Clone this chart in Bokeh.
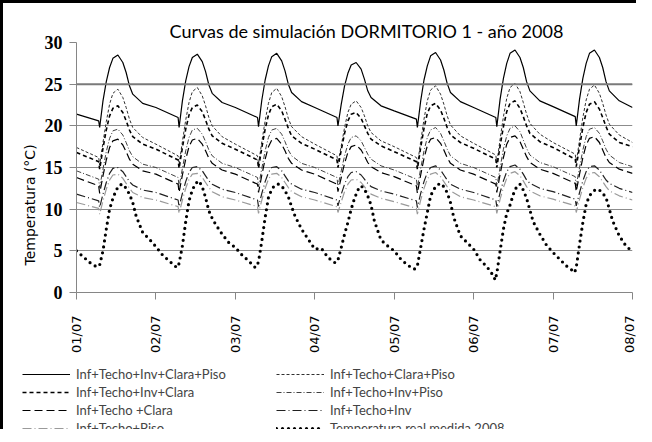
import math
from bokeh.plotting import figure
from bokeh.layouts import column
from bokeh.models import Legend, LegendItem, FixedTicker, Span, Range1d, Title
from bokeh.embed import file_html
from bokeh.resources import INLINE

title_text = "Curvas de simulación DORMITORIO 1 - año 2008"
y_label = "Temperatura (°C)"
x_tick_hours = [0, 24, 48, 72, 96, 120, 144, 168]
x_tick_labels = ["01/07", "02/07", "03/07", "04/07", "05/07", "06/07", "07/07", "08/07"]
y_ticks = [0, 5, 10, 15, 20, 25, 30]

# hours of day at which the simulated curves are read
sim_hours = [0, 6.7, 7.0, 8, 9, 10, 11, 12.5, 14, 15, 16, 17, 20]

s1_name = "Inf+Techo+Inv+Clara+Piso"
s1_days = [
    [21.4, 20.6, 19.8, 23.0, 25.3, 27.0, 28.1, 28.5, 27.6, 26.4, 24.8, 23.8, 22.7],
    [22.2, 21.0, 19.8, 23.0, 25.4, 27.1, 28.2, 28.6, 27.7, 26.5, 24.9, 23.9, 22.8],
    [22.2, 21.0, 19.9, 23.1, 25.5, 27.2, 28.3, 28.7, 27.8, 26.6, 25.0, 24.0, 22.9],
    [22.2, 21.0, 20.0, 22.6, 24.8, 26.3, 27.3, 27.6, 26.8, 25.6, 24.2, 23.4, 22.4],
    [21.8, 20.8, 19.8, 23.0, 25.5, 27.2, 28.4, 28.8, 27.9, 26.7, 25.1, 24.0, 22.9],
    [22.2, 21.0, 19.9, 23.2, 25.7, 27.5, 28.7, 29.1, 28.2, 27.0, 25.3, 24.2, 23.0],
    [22.3, 21.1, 20.0, 23.2, 25.7, 27.5, 28.7, 29.1, 28.2, 27.0, 25.3, 24.2, 23.0],
]
s1_end = 22.2

s2_name = "Inf+Techo+Clara+Piso"
s2_days = [
    [17.4, 16.2, 15.3, 18.0, 20.5, 22.6, 23.9, 24.4, 23.4, 22.2, 20.8, 19.8, 18.6],
    [17.8, 16.4, 15.4, 18.1, 20.7, 22.8, 24.1, 24.6, 23.6, 22.4, 21.0, 20.0, 18.7],
    [17.8, 16.4, 15.4, 18.1, 20.6, 22.7, 24.0, 24.5, 23.5, 22.3, 20.9, 19.9, 18.7],
    [17.8, 16.4, 15.5, 17.6, 19.8, 21.6, 22.6, 23.0, 22.2, 21.2, 20.0, 19.2, 18.2],
    [17.5, 16.2, 15.3, 18.1, 20.8, 23.0, 24.3, 24.8, 23.8, 22.6, 21.2, 20.1, 18.8],
    [17.9, 16.5, 15.5, 18.4, 21.1, 23.3, 24.6, 25.1, 24.1, 22.8, 21.4, 20.3, 19.0],
    [18.0, 16.6, 15.6, 18.3, 21.0, 23.1, 24.4, 24.9, 23.9, 22.7, 21.3, 20.2, 18.9],
]
s2_end = 18.0

s3_name = "Inf+Techo+Inv+Clara"
s3_days = [
    [16.8, 15.7, 14.8, 17.3, 19.5, 21.2, 22.1, 22.4, 21.6, 20.6, 19.5, 18.7, 17.8],
    [17.2, 15.9, 14.9, 17.4, 19.6, 21.3, 22.2, 22.5, 21.7, 20.7, 19.6, 18.8, 17.9],
    [17.2, 15.9, 14.9, 17.4, 19.6, 21.3, 22.3, 22.6, 21.8, 20.8, 19.7, 18.8, 17.9],
    [17.2, 15.9, 15.0, 17.1, 19.1, 20.6, 21.4, 21.6, 20.9, 20.0, 19.1, 18.4, 17.6],
    [16.9, 15.7, 14.8, 17.4, 19.7, 21.5, 22.4, 22.7, 21.9, 20.9, 19.8, 18.9, 18.0],
    [17.3, 16.0, 15.0, 17.6, 19.9, 21.7, 22.7, 23.0, 22.1, 21.1, 20.0, 19.1, 18.1],
    [17.4, 16.0, 15.1, 17.5, 19.8, 21.6, 22.6, 22.9, 22.0, 21.0, 19.9, 19.0, 18.0],
]
s3_end = 17.5

s4_name = "Inf+Techo+Inv+Piso"
s4_days = [
    [14.6, 13.6, 12.6, 14.8, 16.9, 18.5, 19.4, 19.6, 18.9, 18.0, 17.0, 16.3, 15.4],
    [15.0, 13.8, 12.7, 14.9, 17.0, 18.6, 19.5, 19.7, 19.0, 18.1, 17.1, 16.4, 15.5],
    [15.0, 13.8, 12.7, 14.9, 17.0, 18.6, 19.5, 19.7, 19.0, 18.1, 17.1, 16.4, 15.5],
    [15.0, 13.8, 12.8, 14.6, 16.4, 17.8, 18.6, 18.8, 18.2, 17.4, 16.6, 16.0, 15.2],
    [14.7, 13.6, 12.6, 14.9, 17.0, 18.6, 19.5, 19.8, 19.1, 18.2, 17.2, 16.4, 15.5],
    [15.0, 13.8, 12.7, 15.0, 17.2, 18.8, 19.7, 20.0, 19.3, 18.3, 17.3, 16.5, 15.6],
    [15.1, 13.9, 12.8, 15.0, 17.1, 18.7, 19.6, 19.8, 19.1, 18.2, 17.2, 16.5, 15.6],
]
s4_end = 15.1

s5_name = "Inf+Techo +Clara"
s5_days = [
    [13.8, 12.8, 11.9, 14.0, 15.9, 17.4, 18.2, 18.4, 17.7, 16.9, 16.0, 15.4, 14.6],
    [14.2, 13.0, 12.0, 14.1, 16.0, 17.5, 18.3, 18.5, 17.8, 17.0, 16.1, 15.5, 14.7],
    [14.2, 13.0, 12.0, 14.1, 16.0, 17.5, 18.3, 18.5, 17.8, 17.0, 16.1, 15.5, 14.7],
    [14.2, 13.0, 12.1, 13.8, 15.5, 16.8, 17.5, 17.7, 17.1, 16.4, 15.6, 15.1, 14.4],
    [13.9, 12.8, 11.9, 14.1, 16.1, 17.6, 18.4, 18.6, 17.9, 17.1, 16.2, 15.5, 14.7],
    [14.2, 13.0, 12.0, 14.2, 16.2, 17.8, 18.6, 18.8, 18.1, 17.2, 16.3, 15.6, 14.8],
    [14.3, 13.1, 12.1, 14.2, 16.2, 17.7, 18.5, 18.7, 18.0, 17.1, 16.2, 15.6, 14.8],
]
s5_end = 14.3

s6_name = "Inf+Techo+Inv"
s6_days = [
    [11.8, 11.0, 10.2, 11.8, 13.2, 14.3, 14.9, 15.0, 14.5, 13.9, 13.3, 12.9, 12.3],
    [12.0, 11.1, 10.3, 11.9, 13.3, 14.4, 15.0, 15.1, 14.6, 14.0, 13.4, 13.0, 12.4],
    [12.0, 11.1, 10.3, 11.9, 13.3, 14.4, 15.0, 15.1, 14.6, 14.0, 13.4, 13.0, 12.4],
    [12.0, 11.1, 10.4, 11.8, 13.0, 13.9, 14.4, 14.5, 14.1, 13.6, 13.1, 12.7, 12.2],
    [11.8, 11.0, 10.2, 11.9, 13.3, 14.4, 15.0, 15.2, 14.7, 14.1, 13.5, 13.0, 12.4],
    [12.0, 11.1, 10.3, 12.0, 13.4, 14.5, 15.1, 15.3, 14.8, 14.2, 13.5, 13.1, 12.5],
    [12.1, 11.2, 10.4, 12.0, 13.4, 14.5, 15.1, 15.2, 14.7, 14.1, 13.5, 13.1, 12.5],
]
s6_end = 12.0

s7_name = "Inf+Techo+Piso"
s7_days = [
    [10.8, 10.1, 9.4, 11.0, 12.4, 13.5, 14.1, 14.2, 13.7, 13.1, 12.5, 12.0, 11.4],
    [11.1, 10.3, 9.5, 11.1, 12.5, 13.6, 14.2, 14.3, 13.8, 13.2, 12.6, 12.1, 11.5],
    [11.1, 10.3, 9.5, 11.1, 12.5, 13.6, 14.2, 14.3, 13.8, 13.2, 12.6, 12.1, 11.5],
    [11.1, 10.3, 9.6, 10.9, 12.1, 13.0, 13.5, 13.6, 13.2, 12.7, 12.2, 11.8, 11.3],
    [10.9, 10.1, 9.4, 11.1, 12.5, 13.6, 14.2, 14.4, 13.9, 13.3, 12.7, 12.2, 11.5],
    [11.1, 10.3, 9.5, 11.2, 12.6, 13.7, 14.3, 14.5, 14.0, 13.4, 12.7, 12.2, 11.6],
    [11.2, 10.4, 9.6, 11.2, 12.6, 13.7, 14.3, 14.4, 13.9, 13.3, 12.7, 12.2, 11.6],
]
s7_end = 11.1

# measured temperature, hours of day
meas_hours = [0, 2, 4, 6, 6.5, 7, 8, 9, 10, 11, 12, 13, 14, 15, 16, 17, 18, 20, 22]
s8_name = "Temperatura real medida 2008"
s8_days = [
    [5.0, 4.3, 3.6, 3.1, 3.1, 3.3, 5.0, 7.6, 10.0, 11.3, 12.3, 12.9, 13.0, 12.5, 11.8, 10.8, 9.2, 7.2, 6.4],
    [5.5, 4.5, 3.8, 3.1, 3.0, 3.5, 5.6, 8.5, 11.0, 12.3, 13.1, 13.4, 12.7, 11.4, 9.8, 8.9, 8.2, 7.0, 6.0],
    [5.4, 4.5, 3.8, 3.0, 3.2, 3.7, 6.2, 9.0, 11.4, 12.4, 12.9, 13.0, 12.8, 12.2, 11.5, 10.3, 9.2, 7.6, 6.4],
    [5.2, 5.3, 4.2, 3.6, 3.6, 3.9, 5.4, 7.0, 8.4, 10.0, 11.3, 12.3, 12.8, 12.4, 11.6, 10.5, 8.6, 6.3, 5.6],
    [5.0, 4.0, 3.3, 2.8, 2.9, 3.2, 5.4, 7.6, 9.6, 11.6, 12.4, 12.9, 13.1, 12.7, 12.0, 10.8, 9.0, 6.8, 6.0],
    [5.2, 3.9, 3.1, 2.0, 1.5, 2.3, 5.0, 7.6, 9.5, 10.5, 11.8, 12.7, 13.0, 12.3, 11.3, 9.9, 8.5, 7.0, 5.7],
    [4.8, 4.0, 3.2, 2.6, 2.4, 3.0, 5.8, 8.4, 10.6, 11.6, 12.1, 12.4, 12.3, 11.9, 11.4, 10.0, 8.6, 6.8, 5.6],
]
s8_end = 4.9


def week(hours, days, end):
    xs, ys = [], []
    for d, vals in enumerate(days):
        xs += [24 * d + h for h in hours]
        ys += vals
    xs.append(24 * len(days))
    ys.append(end)
    return xs, ys


p = figure(width=633, height=358, output_backend="svg", toolbar_location=None,
           x_range=Range1d(0, 168), y_range=Range1d(0, 30),
           min_border_left=73, min_border_right=4, min_border_top=39, min_border_bottom=69)
p.frame_align = False
p.background_fill_color = "white"
p.border_fill_color = "white"
p.outline_line_color = None

p.title.text = title_text
p.title.align = "left"
p.title.offset = 93
p.title.text_font = "Lato"
p.title.text_font_size = "18px"
p.title.text_font_style = "normal"
p.title.text_color = "black"
p.title.standoff = 2

# axes
p.xaxis.ticker = FixedTicker(ticks=x_tick_hours)
p.xaxis.major_label_overrides = {h: l for h, l in zip(x_tick_hours, x_tick_labels)}
p.xaxis.major_label_orientation = math.pi / 2
p.xaxis.major_label_text_font = "DejaVu Sans"
p.xaxis.major_label_text_font_size = "13px"
p.xaxis.major_label_standoff = 16
p.yaxis.ticker = FixedTicker(ticks=y_ticks)
p.yaxis.major_label_text_font = "Liberation Serif"
p.yaxis.major_label_text_font_size = "18px"
p.yaxis.major_label_text_font_style = "bold"
p.yaxis.major_label_standoff = 7
for ax in (p.xaxis, p.yaxis):
    ax.axis_line_color = "#868686"
    ax.major_tick_line_color = "#868686"
    ax.major_tick_out = 7
    ax.major_tick_in = 0
    ax.minor_tick_line_color = None
    ax.major_label_text_color = "black"
p.xgrid.grid_line_color = None
p.ygrid.ticker = FixedTicker(ticks=y_ticks)
p.ygrid.grid_line_color = "#8c8c8c"
p.ygrid.grid_line_width = 1
p.add_layout(Span(location=25, dimension="width", line_color="#7a7a7a", line_width=2))

ytitle = Title(text=y_label, align="left", offset=27, standoff=8,
               text_font="DejaVu Sans", text_font_size="14px", text_font_style="normal",
               text_color="black")
p.add_layout(ytitle, "left")

styles = [
    (s1_name, s1_days, s1_end, sim_hours, dict(line_color="black", line_width=1.2)),
    (s2_name, s2_days, s2_end, sim_hours, dict(line_color="#303030", line_width=1, line_dash="3 2")),
    (s3_name, s3_days, s3_end, sim_hours, dict(line_color="black", line_width=1.6, line_dash="4 3")),
    (s4_name, s4_days, s4_end, sim_hours, dict(line_color="#404040", line_width=1, line_dash="5 2 1 2")),
    (s5_name, s5_days, s5_end, sim_hours, dict(line_color="black", line_width=1.2, line_dash="8 4")),
    (s6_name, s6_days, s6_end, sim_hours, dict(line_color="#202020", line_width=1.2, line_dash="9 3 1 3")),
    (s7_name, s7_days, s7_end, sim_hours, dict(line_color="#9a9a9a", line_width=1.2, line_dash="9 3 1 3")),
    (s8_name, s8_days, s8_end, meas_hours, dict(line_color="black", line_width=3.2, line_dash="0 6", line_cap="round")),
]

for name, days, end, hours, st in styles:
    xs, ys = week(hours, days, end)
    p.line(xs, ys, **st)

# legend panel below the chart: same series, drawn out of its visible range,
# so that only the legend entries show
pl = figure(width=633, height=68, output_backend="svg", toolbar_location=None,
            x_range=Range1d(0, 168), y_range=Range1d(100, 101),
            min_border_left=0, min_border_right=0, min_border_top=0, min_border_bottom=0,
            x_axis_location=None, y_axis_location=None)
pl.frame_align = False
pl.grid.visible = False
pl.outline_line_color = None
pl.background_fill_color = "white"
pl.border_fill_color = "white"
leg_renderers = {}
for name, days, end, hours, st in styles:
    xs, ys = week(hours, days, end)
    leg_renderers[name] = pl.line(xs, ys, **st)
# column-major legend: first column top to bottom, then second column
order = [s1_name, s3_name, s5_name, s7_name, s2_name, s4_name, s6_name, s8_name]
legend = Legend(items=[LegendItem(label=n, renderers=[leg_renderers[n]]) for n in order],
                ncols=2, location=(19, -7),
                glyph_width=48, glyph_height=16, label_height=16, label_width=198,
                label_standoff=6, spacing=2, padding=0, margin=0,
                border_line_alpha=0, background_fill_alpha=0,
                label_text_font="Lato", label_text_font_size="13px")
pl.add_layout(legend)

layout = column(p, pl, spacing=0,
                styles={"border-left": "3px solid black", "border-top": "3px solid black"})

open("out.html", "w").write(file_html(layout, INLINE))
